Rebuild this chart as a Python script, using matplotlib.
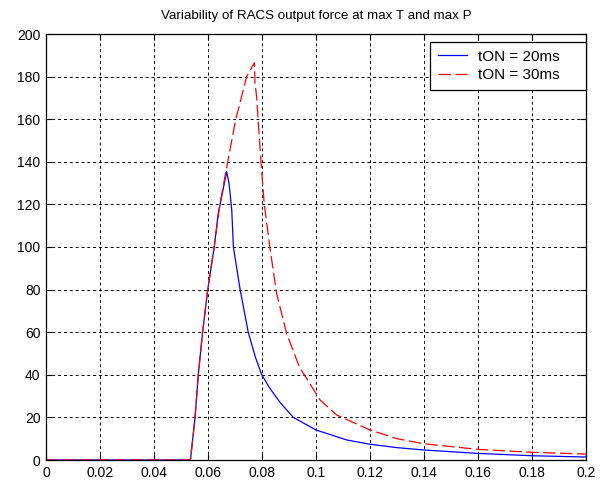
import matplotlib
matplotlib.use("Agg")
import matplotlib.pyplot as plt

plt.rcParams['font.family'] = ['Liberation Sans', 'DejaVu Sans']

title = "Variability of RACS output force at max T and max P"
labels = ["tON = 20ms", "tON = 30ms"]

t_20 = [0.0, 0.0535, 0.0552, 0.0564, 0.0580, 0.0599, 0.0623, 0.0638, 0.0663, 0.0669,
        0.0678, 0.0688, 0.0694, 0.0719, 0.0749, 0.0775, 0.0799, 0.0830, 0.0867, 0.0916,
        0.1000, 0.1114, 0.1200, 0.1300, 0.1400, 0.1600, 0.1800, 0.2000]
f_20 = [0.0, 0.0, 20.0, 40.0, 60.0, 80.0, 100.0, 115.8, 131.5, 135.4,
        129.9, 117.4, 100.0, 80.0, 60.0, 48.5, 40.0, 33.5, 27.0, 20.0,
        14.1, 9.4, 7.4, 5.8, 4.7, 3.1, 2.0, 1.4]

t_30 = [0.0, 0.0535, 0.0552, 0.0564, 0.0580, 0.0599, 0.0623, 0.0644, 0.0673, 0.0703,
        0.0743, 0.0772, 0.0774, 0.0780, 0.0789, 0.0796, 0.0808, 0.0829, 0.0854, 0.0891,
        0.0938, 0.1015, 0.1077, 0.1200, 0.1300, 0.1400, 0.1600, 0.1800, 0.2000]
f_30 = [0.0, 0.0, 20.0, 40.0, 60.0, 80.0, 100.0, 120.0, 140.0, 160.0,
        180.0, 186.5, 177.0, 170.6, 153.4, 140.4, 120.5, 100.0, 78.3, 59.5,
        43.8, 28.2, 21.1, 14.1, 10.0, 7.6, 5.0, 3.6, 2.8]

x_ticks = [0, 0.02, 0.04, 0.06, 0.08, 0.1, 0.12, 0.14, 0.16, 0.18, 0.2]
x_tick_labels = ["0", "0.02", "0.04", "0.06", "0.08", "0.1", "0.12", "0.14", "0.16", "0.18", "0.2"]
y_ticks = list(range(0, 201, 20))

W, H = 606, 483
fig = plt.figure(figsize=(W / 100, H / 100), dpi=100)
ax = fig.add_axes([46 / W, 23 / H, 540 / W, 426 / H])

ax.plot(t_20, f_20, color='#0000ff', lw=0.9, label=labels[0])
ax.plot(t_30, f_30, color='#ff0000', lw=0.9, linestyle=(0, (10, 3.5)), label=labels[1])

ax.set_xlim(0, 0.2)
ax.set_ylim(0, 200)
ax.set_xticks(x_ticks)
ax.set_xticklabels(x_tick_labels)
ax.set_yticks(y_ticks)
ax.tick_params(direction='in', length=4, width=0.8, top=True, right=True,
               labelsize=10, colors='black', pad=4)
for s in ax.spines.values():
    s.set_linewidth(0.9)
    s.set_color('black')

ax.grid(True, color='black', linestyle=(0, (3, 3)), linewidth=0.7)
ax.set_axisbelow(True)

ax.set_title(title, fontsize=9.6, pad=11)

# legend box: x 430..586, top at y=42 (pixels)
x0 = (430 - 46) / 540
wbox = (586 - 430) / 540
ytop = (460 - 42) / 426
leg = ax.legend(loc='upper left', bbox_to_anchor=(x0, ytop - 0.2, wbox, 0.2), mode='expand',
                fontsize=11, frameon=True, fancybox=False,
                edgecolor='black', framealpha=1, borderaxespad=0,
                handlelength=1.9, handletextpad=0.75, borderpad=0.5, labelspacing=0.3)
leg.get_frame().set_linewidth(0.9)

fig.savefig("out.png", dpi=100, facecolor='white')
